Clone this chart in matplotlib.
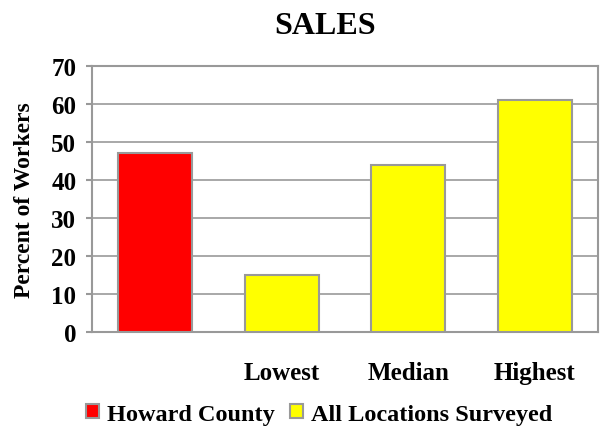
import matplotlib
matplotlib.use("Agg")
import matplotlib.pyplot as plt
from matplotlib.patches import Patch

categories = ["", "Lowest", "Median", "Highest"]
values = [47, 15, 44, 61]
colors = ["#ff0000", "#ffff00", "#ffff00", "#ffff00"]
legend_labels = ["Howard County", "All Locations Surveyed"]
legend_colors = ["#ff0000", "#ffff00"]
yticks = [0, 10, 20, 30, 40, 50, 60, 70]

plt.rcParams['font.family'] = ['Liberation Serif', 'DejaVu Serif']
plt.rcParams['font.weight'] = 'bold'

fig = plt.figure(figsize=(6.0, 4.31), dpi=100)
ax = fig.add_axes([0.1533, 0.2274, 0.8434, 0.6171])

x = list(range(len(categories)))
ax.bar(x, values, width=0.585, color=colors, edgecolor="#999999", linewidth=1.5, zorder=3)
ax.set_xlim(-0.5, len(categories) - 0.5)
ax.set_ylim(0, 70)
ax.set_yticks(yticks)
ax.set_yticklabels([str(t) for t in yticks], fontsize=18, fontweight='bold')
ax.set_xticks(x)
ax.set_xticklabels(categories, fontsize=18, fontweight='bold')
ax.tick_params(axis='x', length=0, pad=21)
ax.tick_params(axis='y', length=4.3, width=1.5, color="#999999", pad=7)
ax.yaxis.grid(True, color="#999999", linewidth=1.2, zorder=0)
for s in ax.spines.values():
    s.set_color("#999999")
    s.set_linewidth(1.5)

fig.text(25 / 600, 0.536, "Percent of Workers", fontsize=17, fontweight='bold',
         rotation=90, ha='center', va='center')
fig.text(0.542, 0.938, "SALES", fontsize=23, fontweight='bold', ha='center', va='center')

handles = [Patch(facecolor=c, edgecolor="#999999", linewidth=1.5) for c in legend_colors]
fig.legend(handles, legend_labels, loc='center', bbox_to_anchor=(0.532, 0.036), ncol=2,
           frameon=False, prop={'size': 17.5, 'weight': 'bold'}, handlelength=0.55, handleheight=0.5,
           handletextpad=0.33, columnspacing=0.6, borderpad=0, borderaxespad=0)

fig.savefig("out.png", dpi=100)
